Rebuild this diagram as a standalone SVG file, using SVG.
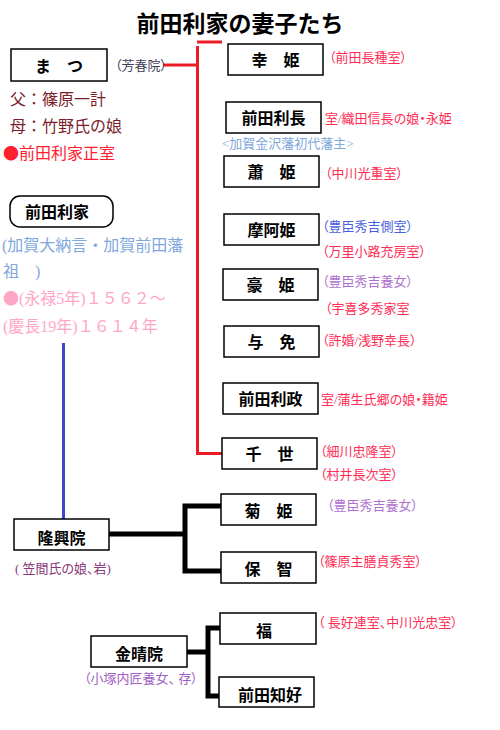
<svg xmlns="http://www.w3.org/2000/svg" width="500" height="730" viewBox="0 0 500 730">
<style>
text{font-family:"Liberation Serif","Noto Sans CJK JP",serif;}
.box{fill:#fff;stroke:#000;stroke-width:1.5;}
.bt{font-size:16px;fill:#000;text-anchor:middle;font-weight:bold;}
.an{font-size:13px;font-feature-settings:"palt";}
.red{fill:#ff2d55;}
.blue{fill:#4a5ee0;}
.vio{fill:#b070d0;}
.lb{fill:#80a8dc;}
.pk{fill:#ffa6c8;}
.mr{fill:#7a1e2a;}
.dot{font-family:"Noto Sans CJK JP",sans-serif;}
.rl{stroke:#ed1c24;stroke-width:3;fill:none;}
.bk{stroke:#000;stroke-width:5;fill:none;}
</style>
<rect width="500" height="730" fill="#fff"/>
<text x="240" y="32" font-size="23" text-anchor="middle" fill="#000" font-weight="bold">前田利家の妻子たち</text>

<g id="connectors">
<line class="rl" x1="197" y1="42" x2="222" y2="42"/>
<polyline class="rl" points="163,65 197,65"/>
<polyline class="rl" points="197.5,46 197.5,453.5 222,453.5"/>
<line x1="63.5" y1="343" x2="63.5" y2="520" stroke="#3f48cc" stroke-width="3"/>
<polyline class="bk" points="108,534 185,534"/>
<polyline class="bk" points="221,506 185,506 185,571 221,571"/>
<polyline class="bk" points="186,652 208,652"/>
<polyline class="bk" points="220,628 208,628 208,696 220,696"/>
</g>

<g id="matsu">
<rect class="box" x="11" y="49" width="96" height="32"/>
<text class="bt" x="59" y="72">ま　つ</text>
<text class="an" x="115" y="70" font-size="12" fill="#3c3c58">（芳春院）</text>
<text x="10" y="105" font-size="16" class="mr">父：篠原一計</text>
<text x="10" y="132" font-size="16" class="mr">母：竹野氏の娘</text>
<text x="3" y="159" font-size="16" fill="#ff2030"><tspan class="dot">●</tspan>前田利家正室</text>
</g>

<g id="toshiie">
<rect x="10" y="196" width="103" height="31" rx="10" fill="#fff" stroke="#000" stroke-width="1.5"/>
<text x="25" y="218" font-size="16" font-weight="bold" fill="#000">前田利家</text>
<text x="2" y="251" font-size="16" class="lb">(加賀大納言・加賀前田藩</text>
<text x="3" y="277" font-size="16" class="lb">祖　)</text>
<text x="3" y="304" font-size="16" class="pk"><tspan class="dot">●</tspan>(永禄5年)１５６２～</text>
<text x="3" y="332" font-size="16" class="pk">(慶長19年)１６１４年</text>
</g>

<g id="kohime">
<rect class="box" x="228" y="44" width="95" height="31"/>
<text class="bt" x="275.5" y="66">幸　姫</text>
<text class="an red" x="329" y="62">（前田長種室）</text>
</g>

<g id="toshinaga">
<rect class="box" x="226" y="102" width="95" height="31"/>
<text class="bt" x="273.5" y="124">前田利長</text>
<text class="an red" x="325" y="123">室/織田信長の娘・永姫</text>
<text class="an lb" x="222" y="148">&lt;加賀金沢藩初代藩主&gt;</text>
</g>

<g id="shohime">
<rect class="box" x="224" y="156" width="95" height="31"/>
<text class="bt" x="271.5" y="178">蕭　姫</text>
<text class="an red" x="325" y="178">（中川光重室）</text>
</g>

<g id="maahime">
<rect class="box" x="224" y="214" width="95" height="31"/>
<text class="bt" x="271.5" y="236">摩阿姫</text>
<text class="an blue" x="322" y="231">（豊臣秀吉側室）</text>
<text class="an red" x="322" y="256">（万里小路充房室）</text>
</g>

<g id="gohime">
<rect class="box" x="223" y="269" width="95" height="31"/>
<text class="bt" x="270.5" y="291">豪　姫</text>
<text class="an vio" x="322" y="286">（豊臣秀吉養女）</text>
<text class="an red" x="325" y="313">（宇喜多秀家室</text>
</g>

<g id="yome">
<rect class="box" x="224" y="326" width="95" height="31"/>
<text class="bt" x="271.5" y="348">与　免</text>
<text class="an red" x="322" y="345">（許婚/浅野幸長）</text>
</g>

<g id="toshimasa">
<rect class="box" x="223" y="383" width="95" height="31"/>
<text class="bt" x="270.5" y="405">前田利政</text>
<text class="an red" x="321" y="404">室/蒲生氏郷の娘・籍姫</text>
</g>

<g id="chiyo">
<rect class="box" x="222" y="438" width="95" height="31"/>
<text class="bt" x="269.5" y="460">千　世</text>
<text class="an red" x="320" y="456">（細川忠隆室）</text>
<text class="an red" x="320" y="479">（村井長次室）</text>
</g>

<g id="ryukoin">
<rect class="box" x="14" y="519" width="95" height="31"/>
<text class="bt" x="61.5" y="544">隆興院</text>
<text class="an" x="15" y="573" fill="#8a3a7a">( 笠間氏の娘、岩)</text>
</g>

<g id="kikuhime">
<rect class="box" x="221" y="494" width="95" height="31"/>
<text class="bt" x="268.5" y="517">菊　姫</text>
<text class="an vio" x="327" y="510">（豊臣秀吉養女）</text>
</g>

<g id="hochi">
<rect class="box" x="221" y="552" width="95" height="31"/>
<text class="bt" x="268.5" y="575">保　智</text>
<text class="an red" x="318" y="566">（篠原主膳貞秀室）</text>
</g>

<g id="kinseiin">
<rect class="box" x="91" y="636" width="96" height="31"/>
<text class="bt" x="139" y="660">金晴院</text>
<text class="an" x="84" y="683" fill="#a060c0" xml:space="preserve">（小塚内匠養女、 存）</text>
</g>

<g id="fuku">
<rect class="box" x="220" y="613" width="96" height="31"/>
<text class="bt" x="264" y="637">福</text>
<text class="an red" x="318" y="627">（ 長好連室、中川光忠室）</text>
</g>

<g id="tomoyoshi">
<rect class="box" x="219" y="677" width="95" height="30"/>
<text class="bt" x="270" y="701">前田知好</text>
</g>
</svg>
